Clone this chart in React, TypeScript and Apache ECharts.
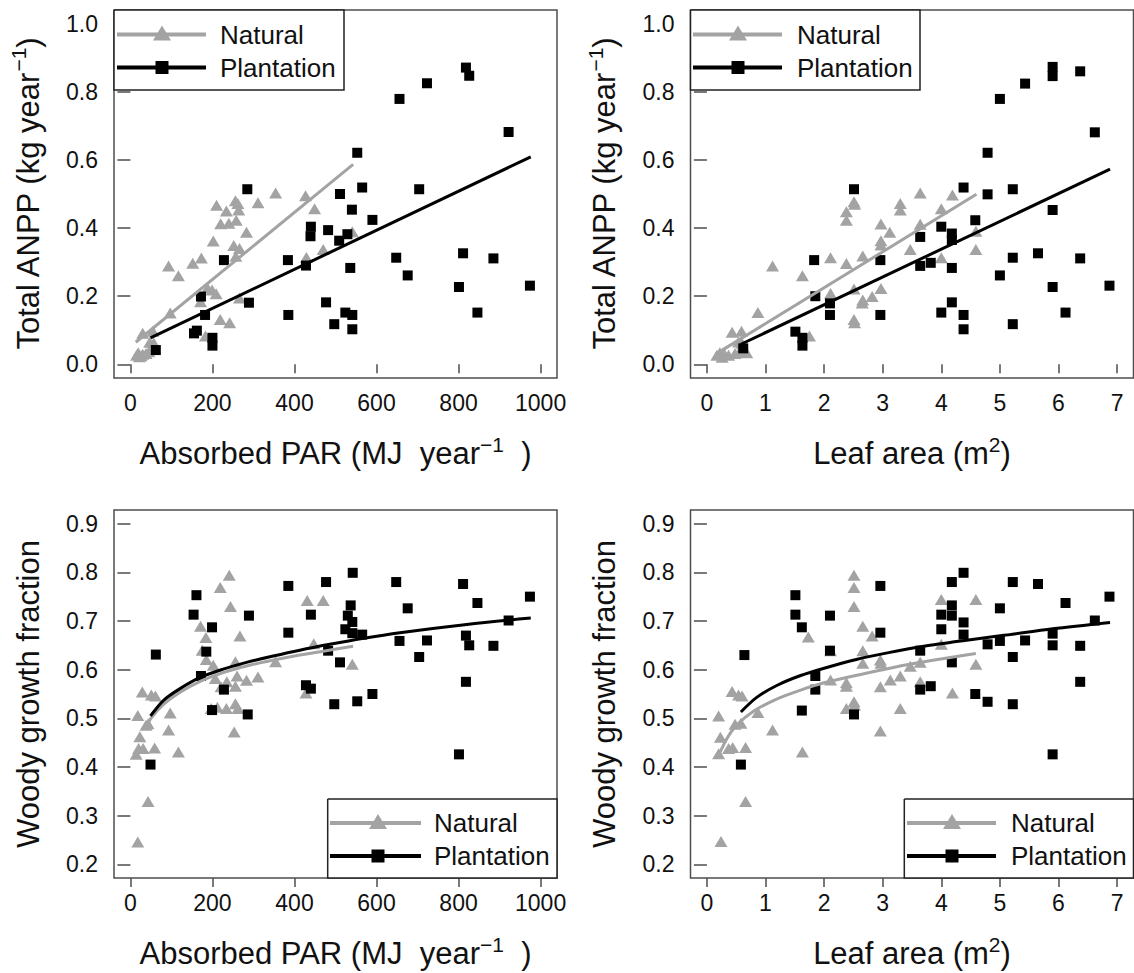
import React, { useEffect, useRef } from "react";
import * as echarts from "echarts";

// ---------- tick values ----------
const parTicks = [0, 200, 400, 600, 800, 1000];
const leafTicks = [0, 1, 2, 3, 4, 5, 6, 7];
const anppTicks = [0, 0.2, 0.4, 0.6, 0.8, 1.0];
const wgfTicks = [0.2, 0.3, 0.4, 0.5, 0.6, 0.7, 0.8, 0.9];

// ---------- Panel 1: Absorbed PAR vs Total ANPP ----------
const parAnppNatural = [
  [354, 0.503], [427, 0.495], [449, 0.457], [210, 0.467], [256, 0.48], [262, 0.472], [264, 0.453],
  [234, 0.45], [311, 0.474], [220, 0.413], [240, 0.414], [258, 0.423], [283, 0.388], [202, 0.362],
  [252, 0.349], [266, 0.34], [257, 0.317], [541, 0.389], [470, 0.337], [429, 0.314], [173, 0.312],
  [152, 0.297], [93, 0.289], [117, 0.26], [188, 0.224], [199, 0.218], [209, 0.207], [171, 0.184],
  [266, 0.195], [97, 0.151], [219, 0.132], [242, 0.122], [183, 0.083], [30, 0.091], [55, 0.097],
  [47, 0.065], [57, 0.063], [15, 0.027], [22, 0.022], [30, 0.03], [38, 0.032], [45, 0.037],
  [19, 0.034], [26, 0.025],
];
const parAnppPlantation = [
  [818, 0.871], [826, 0.847], [723, 0.825], [656, 0.779], [922, 0.682], [553, 0.621], [565, 0.519],
  [704, 0.514], [285, 0.514], [511, 0.5], [540, 0.454], [590, 0.424], [440, 0.404], [482, 0.394],
  [439, 0.376], [529, 0.382], [509, 0.363], [228, 0.306], [384, 0.306], [428, 0.29], [648, 0.313],
  [811, 0.326], [885, 0.311], [536, 0.283], [676, 0.261], [801, 0.227], [974, 0.231], [172, 0.199],
  [289, 0.181], [477, 0.182], [182, 0.145], [385, 0.145], [524, 0.152], [541, 0.145], [846, 0.152],
  [497, 0.118], [541, 0.103], [155, 0.091], [162, 0.099], [200, 0.078], [200, 0.055], [62, 0.042],
];
const parAnppNaturalFit = [[13, 0.065], [543, 0.587]];
const parAnppPlantationFit = [[49, 0.078], [976, 0.609]];

// ---------- Panel 2: Leaf area vs Total ANPP ----------
const leafAnppNatural = [
  [3.64, 0.503], [4.19, 0.497], [2.51, 0.477], [2.52, 0.47], [2.38, 0.448], [2.38, 0.423], [3.3, 0.472],
  [3.3, 0.453], [4.0, 0.457], [2.97, 0.412], [3.12, 0.388], [3.64, 0.411], [2.97, 0.363], [2.97, 0.35],
  [3.47, 0.337], [2.66, 0.318], [4.0, 0.313], [4.59, 0.391], [4.59, 0.337], [2.11, 0.313], [2.38, 0.296],
  [1.12, 0.289], [1.63, 0.26], [2.11, 0.208], [2.51, 0.221], [2.97, 0.223], [2.66, 0.189], [2.65, 0.18],
  [2.82, 0.199], [0.87, 0.152], [2.51, 0.132], [2.52, 0.122], [1.75, 0.083], [0.43, 0.094], [0.59, 0.097],
  [0.54, 0.066], [0.6, 0.062], [0.17, 0.027], [0.26, 0.021], [0.37, 0.027], [0.48, 0.032], [0.68, 0.034],
  [0.22, 0.034], [0.3, 0.03], [0.55, 0.036],
];
const leafAnppPlantation = [
  [5.9, 0.873], [5.9, 0.846], [6.37, 0.86], [5.43, 0.824], [5.0, 0.779], [6.62, 0.681], [4.79, 0.621],
  [2.51, 0.514], [4.38, 0.519], [4.79, 0.499], [5.22, 0.514], [5.9, 0.453], [4.58, 0.423], [4.0, 0.404],
  [4.18, 0.384], [4.18, 0.365], [3.64, 0.374], [1.83, 0.306], [2.96, 0.306], [3.64, 0.289], [3.82, 0.298],
  [4.18, 0.283], [5.22, 0.313], [5.65, 0.326], [6.37, 0.311], [5.0, 0.261], [5.9, 0.227], [6.87, 0.231],
  [1.85, 0.2], [2.1, 0.179], [2.1, 0.145], [2.96, 0.145], [4.18, 0.182], [4.0, 0.152], [4.38, 0.145],
  [6.12, 0.152], [5.22, 0.118], [4.38, 0.103], [1.51, 0.096], [1.63, 0.078], [1.63, 0.055], [0.62, 0.047],
];
const leafAnppNaturalFit = [[0.15, 0.03], [4.6, 0.499]];
const leafAnppPlantationFit = [[0.58, 0.059], [6.88, 0.573]];

// ---------- Panel 3: Absorbed PAR vs Woody growth fraction ----------
const parWgfNatural = [
  [241, 0.794], [219, 0.769], [244, 0.73], [431, 0.742], [470, 0.742], [171, 0.689], [184, 0.666],
  [267, 0.669], [175, 0.64], [185, 0.621], [202, 0.609], [256, 0.616], [354, 0.616], [447, 0.653],
  [541, 0.611], [207, 0.582], [235, 0.575], [260, 0.587], [283, 0.578], [311, 0.585], [221, 0.565],
  [256, 0.566], [428, 0.552], [197, 0.52], [212, 0.523], [234, 0.52], [256, 0.53], [262, 0.52],
  [253, 0.472], [29, 0.554], [51, 0.548], [61, 0.546], [18, 0.506], [97, 0.511], [38, 0.486],
  [43, 0.489], [93, 0.476], [23, 0.462], [20, 0.438], [31, 0.438], [59, 0.439], [14, 0.426],
  [117, 0.431], [43, 0.329], [18, 0.246],
];
const parWgfPlantation = [
  [62, 0.631], [49, 0.405], [161, 0.753], [154, 0.713], [199, 0.687], [185, 0.637], [172, 0.587],
  [199, 0.517], [228, 0.559], [289, 0.711], [286, 0.508], [385, 0.772], [385, 0.676], [440, 0.713],
  [428, 0.568], [440, 0.561], [477, 0.78], [482, 0.639], [497, 0.529], [511, 0.615], [524, 0.683],
  [530, 0.711], [537, 0.732], [542, 0.799], [541, 0.698], [541, 0.675], [553, 0.535], [565, 0.672],
  [590, 0.55], [648, 0.78], [656, 0.659], [676, 0.726], [704, 0.626], [723, 0.66], [801, 0.426],
  [811, 0.776], [818, 0.67], [818, 0.575], [826, 0.65], [846, 0.737], [885, 0.649], [922, 0.701],
  [974, 0.75],
];
const parWgfNaturalFit = [
  [35, 0.478], [50, 0.5], [80, 0.528], [120, 0.553], [170, 0.576], [230, 0.595], [300, 0.611],
  [400, 0.628], [470, 0.638], [543, 0.648],
];
const parWgfPlantationFit = [
  [49, 0.505], [81, 0.537], [121, 0.561], [170, 0.584], [226, 0.601], [283, 0.615], [348, 0.628],
  [413, 0.64], [486, 0.652], [565, 0.664], [657, 0.676], [820, 0.693], [976, 0.706],
];

// ---------- Panel 4: Leaf area vs Woody growth fraction ----------
const leafWgfNatural = [
  [2.51, 0.794], [2.51, 0.769], [2.51, 0.73], [4.0, 0.744], [4.59, 0.744], [1.73, 0.667], [2.66, 0.689],
  [2.82, 0.669], [2.11, 0.639], [2.66, 0.639], [2.96, 0.62], [2.97, 0.613], [2.66, 0.613], [4.0, 0.652],
  [3.64, 0.615], [4.59, 0.611], [3.47, 0.607], [3.3, 0.587], [3.13, 0.579], [2.11, 0.579], [2.38, 0.573],
  [2.38, 0.566], [2.96, 0.565], [3.64, 0.575], [4.19, 0.552], [2.51, 0.534], [2.52, 0.527], [2.38, 0.52],
  [3.3, 0.52], [2.96, 0.474], [1.63, 0.431], [1.12, 0.476], [0.87, 0.512], [0.43, 0.555], [0.54, 0.548],
  [0.6, 0.546], [0.2, 0.505], [0.48, 0.488], [0.58, 0.49], [0.23, 0.461], [0.37, 0.438], [0.44, 0.44],
  [0.66, 0.44], [0.2, 0.427], [0.66, 0.329], [0.24, 0.247],
];
const leafWgfPlantation = [
  [0.64, 0.63], [0.58, 0.405], [1.51, 0.753], [1.51, 0.713], [1.62, 0.687], [1.62, 0.516], [1.85, 0.587],
  [1.85, 0.559], [2.1, 0.711], [2.1, 0.639], [2.51, 0.508], [2.96, 0.772], [2.96, 0.676], [3.64, 0.639],
  [3.64, 0.559], [3.82, 0.566], [4.0, 0.713], [4.0, 0.683], [4.18, 0.78], [4.18, 0.732], [4.18, 0.711],
  [4.18, 0.615], [4.38, 0.799], [4.38, 0.697], [4.38, 0.672], [4.58, 0.55], [4.79, 0.652], [4.79, 0.534],
  [5.0, 0.726], [5.0, 0.659], [5.22, 0.78], [5.22, 0.626], [5.22, 0.529], [5.43, 0.66], [5.65, 0.776],
  [5.9, 0.674], [5.9, 0.65], [5.9, 0.426], [6.12, 0.737], [6.37, 0.649], [6.37, 0.575], [6.62, 0.701],
  [6.87, 0.75],
];
const leafWgfNaturalFit = [
  [0.2, 0.424], [0.35, 0.46], [0.5, 0.485], [0.8, 0.515], [1.2, 0.54], [1.6, 0.558], [2.0, 0.573],
  [2.5, 0.587], [3.0, 0.6], [3.6, 0.614], [4.1, 0.624], [4.59, 0.633],
];
const leafWgfPlantationFit = [
  [0.58, 0.513], [0.85, 0.543], [1.2, 0.568], [1.6, 0.588], [2.0, 0.603], [2.55, 0.621], [3.1, 0.635],
  [3.7, 0.648], [4.4, 0.66], [5.1, 0.671], [5.9, 0.684], [6.88, 0.697],
];

// ---------- styling ----------
const FONT = "'Liberation Sans', Arial, Helvetica, sans-serif";
const GRAY = "#a3a3a3";
const BLACK = "#000000";
const FRAME = "#4d4d4d";
const TEXT = "#111111";

const GRIDS = [
  { left: 114, top: 10, width: 443, height: 368 },
  { left: 690.5, top: 10, width: 443, height: 368 },
  { left: 114, top: 510, width: 443, height: 368 },
  { left: 690.5, top: 510, width: 443, height: 368 },
];

function xAxis(gridIndex: number, min: number, max: number, ticks: number[], name: string, rich: any) {
  return {
    type: "value",
    gridIndex,
    min,
    max,
    splitLine: { show: false },
    splitArea: { show: false },
    minorTick: { show: false },
    axisLine: { show: false },
    axisTick: { show: true, inside: false, customValues: ticks, length: 9, lineStyle: { color: FRAME, width: 1.5 } },
    axisLabel: {
      customValues: ticks,
      margin: 13,
      fontSize: 23,
      color: TEXT,
      fontFamily: FONT,
      formatter: (v: number) => String(Math.round(v)),
    },
    name,
    nameLocation: "middle",
    nameGap: 56,
    nameTextStyle: { fontFamily: FONT, color: TEXT, fontSize: 31, rich },
  };
}

function yAxis(gridIndex: number, min: number, max: number, ticks: number[], name: string, rich: any) {
  return {
    type: "value",
    gridIndex,
    min,
    max,
    splitLine: { show: false },
    splitArea: { show: false },
    minorTick: { show: false },
    axisLine: { show: false },
    axisTick: { show: true, inside: false, customValues: ticks, length: 13, lineStyle: { color: FRAME, width: 1.5 } },
    axisLabel: {
      customValues: ticks,
      margin: 16,
      fontSize: 23,
      color: TEXT,
      fontFamily: FONT,
      formatter: (v: number) => v.toFixed(1),
    },
    name,
    nameLocation: "middle",
    nameGap: 66,
    nameTextStyle: { fontFamily: FONT, color: TEXT, fontSize: 31, rich },
  };
}

const richX = {
  m: { fontFamily: FONT, fontSize: 31, color: TEXT, lineHeight: 38, verticalAlign: "middle" },
  s: { fontFamily: FONT, fontSize: 21, color: TEXT, lineHeight: 38, verticalAlign: "top" },
};
const richY = {
  m: { fontFamily: FONT, fontSize: 31, color: TEXT, lineHeight: 40, verticalAlign: "middle" },
  s: { fontFamily: FONT, fontSize: 21, color: TEXT, lineHeight: 40, verticalAlign: "top" },
};

function seriesFor(i: number, nat: number[][], pla: number[][], natFit: number[][], plaFit: number[][]) {
  return [
    {
      type: "scatter",
      name: "Natural",
      xAxisIndex: i,
      yAxisIndex: i,
      data: nat,
      symbol: "triangle",
      symbolSize: [13, 11],
      itemStyle: { color: GRAY, opacity: 1 },
      z: 2,
    },
    {
      type: "scatter",
      name: "Plantation",
      xAxisIndex: i,
      yAxisIndex: i,
      data: pla,
      symbol: "rect",
      symbolSize: 10,
      itemStyle: { color: BLACK, opacity: 1 },
      z: 3,
    },
    {
      type: "line",
      name: "Natural fit",
      xAxisIndex: i,
      yAxisIndex: i,
      data: natFit,
      showSymbol: false,
      symbol: "none",
      smooth: 0.3,
      lineStyle: { color: GRAY, width: 3 },
      z: 4,
    },
    {
      type: "line",
      name: "Plantation fit",
      xAxisIndex: i,
      yAxisIndex: i,
      data: plaFit,
      showSymbol: false,
      symbol: "none",
      smooth: 0.3,
      lineStyle: { color: BLACK, width: 3 },
      z: 5,
    },
  ];
}

function legendBox(x0: number, y0: number, x1: number, y1: number, row1: number, row2: number,
  lineX0: number, lineX1: number, markX: number, textX: number) {
  return [
    {
      type: "rect",
      shape: { x: x0, y: y0, width: x1 - x0, height: y1 - y0 },
      style: { fill: "#ffffff", stroke: "none" },
      z: 100,
      zlevel: 1,
    },
    {
      type: "polyline",
      shape: { points: [[x0, y0], [x0, y1], [x1, y1], [x1, y0], [x0, y0]] },
      style: { stroke: "#222222", lineWidth: 1.5, fill: "none" },
      z: 104,
      zlevel: 1,
    },
    {
      type: "line",
      shape: { x1: lineX0, y1: row1, x2: lineX1, y2: row1 },
      style: { stroke: GRAY, lineWidth: 4 },
      z: 101,
      zlevel: 1,
    },
    {
      type: "polygon",
      shape: { points: [[markX - 9, row1 + 6], [markX + 9, row1 + 6], [markX, row1 - 9]] },
      style: { fill: GRAY },
      z: 102,
      zlevel: 1,
    },
    {
      type: "line",
      shape: { x1: lineX0, y1: row2, x2: lineX1, y2: row2 },
      style: { stroke: BLACK, lineWidth: 4 },
      z: 101,
      zlevel: 1,
    },
    {
      type: "rect",
      shape: { x: markX - 6.5, y: row2 - 6.5, width: 13, height: 13 },
      style: { fill: BLACK },
      z: 102,
      zlevel: 1,
    },
    {
      type: "text",
      x: textX,
      y: row1,
      style: { text: "Natural", fontFamily: FONT, fontSize: 26, fill: TEXT, verticalAlign: "middle", align: "left" },
      z: 103,
      zlevel: 1,
    },
    {
      type: "text",
      x: textX,
      y: row2,
      style: { text: "Plantation", fontFamily: FONT, fontSize: 26, fill: TEXT, verticalAlign: "middle", align: "left" },
      z: 103,
      zlevel: 1,
    },
  ];
}

export default function App() {
  const ref = useRef<HTMLDivElement | null>(null);

  useEffect(() => {
    document.body.style.margin = "0";
    if (!ref.current) return;
    const chart = echarts.init(ref.current, null, { renderer: "svg" });

    const parName = "{m|Absorbed PAR (MJ  year}{s|\u22121}{m|  )}";
    const leafName = "{m|Leaf area (m}{s|2}{m|)}";
    const anppName = "{m|Total ANPP (kg year}{s|\u22121}{m|)}";
    const wgfName = "{m|Woody growth fraction}";

    const option: any = {
      animation: false,
      backgroundColor: "#ffffff",
      grid: GRIDS.map((g) => ({
        ...g,
        show: true,
        borderColor: FRAME,
        borderWidth: 1.5,
        backgroundColor: "transparent",
        containLabel: false,
        outerBoundsMode: "none",
      })),
      xAxis: [
        xAxis(0, -40, 1040, parTicks, parName, richX),
        xAxis(1, -0.28, 7.28, leafTicks, leafName, richX),
        xAxis(2, -40, 1040, parTicks, parName, richX),
        xAxis(3, -0.28, 7.28, leafTicks, leafName, richX),
      ],
      yAxis: [
        yAxis(0, -0.04, 1.04, anppTicks, anppName, richY),
        yAxis(1, -0.04, 1.04, anppTicks, anppName, richY),
        yAxis(2, 0.172, 0.928, wgfTicks, wgfName, richY),
        yAxis(3, 0.172, 0.928, wgfTicks, wgfName, richY),
      ],
      series: [
        ...seriesFor(0, parAnppNatural, parAnppPlantation, parAnppNaturalFit, parAnppPlantationFit),
        ...seriesFor(1, leafAnppNatural, leafAnppPlantation, leafAnppNaturalFit, leafAnppPlantationFit),
        ...seriesFor(2, parWgfNatural, parWgfPlantation, parWgfNaturalFit, parWgfPlantationFit),
        ...seriesFor(3, leafWgfNatural, leafWgfPlantation, leafWgfNaturalFit, leafWgfPlantationFit),
      ],
      graphic: [
        ...legendBox(114, 10, 344, 90, 34.5, 67.5, 117, 206, 162, 220),
        ...legendBox(690.5, 10, 920, 90, 34.5, 67.5, 693, 782, 738, 797),
        ...legendBox(327.7, 799, 557, 878, 823, 856, 330, 421, 378, 434),
        ...legendBox(904.3, 799, 1133.5, 878, 823, 856, 907, 996, 952, 1011),
      ],
    };

    chart.setOption(option);
    return () => {
      chart.dispose();
    };
  }, []);

  return (
    <div
      ref={ref}
      style={{ position: "absolute", left: 0, top: 0, width: 1134, height: 973, background: "#fff" }}
    />
  );
}
